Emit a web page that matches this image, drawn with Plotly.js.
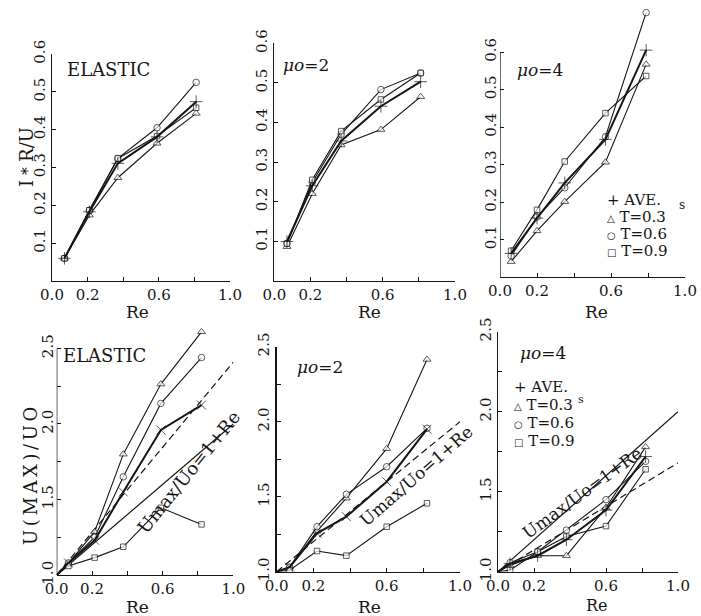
<!DOCTYPE html>
<html><head><meta charset="utf-8">
<script src="https://cdn.plot.ly/plotly-3.0.1.min.js"></script>
<style>html,body{margin:0;padding:0;background:#fff}#chart{width:701px;height:616px}</style>
</head><body><div id="chart"></div>
<script>
// ---------- DATA ----------
// Top row: I*R/U versus Re
const reTopElastic  = [0.07, 0.21, 0.37, 0.59, 0.81];
const aveTopElastic = [0.060, 0.183, 0.311, 0.381, 0.474];
const t03TopElastic = [0.060, 0.174, 0.273, 0.364, 0.443];
const t06TopElastic = [0.060, 0.187, 0.324, 0.405, 0.525];
const t09TopElastic = [0.060, 0.187, 0.324, 0.383, 0.458];

const reTopMu2  = [0.07, 0.21, 0.37, 0.59, 0.81];
const aveTopMu2 = [0.099, 0.240, 0.353, 0.441, 0.503];
const t03TopMu2 = [0.086, 0.220, 0.343, 0.382, 0.465];
const t06TopMu2 = [0.094, 0.248, 0.370, 0.483, 0.525];
const t09TopMu2 = [0.094, 0.255, 0.378, 0.458, 0.525];

const reTopMu4  = [0.06, 0.20, 0.35, 0.57, 0.79];
const aveTopMu4 = [0.063, 0.157, 0.251, 0.367, 0.605];
const t03TopMu4 = [0.041, 0.123, 0.201, 0.306, 0.567];
const t06TopMu4 = [0.056, 0.160, 0.238, 0.374, 0.705];
const t09TopMu4 = [0.070, 0.179, 0.308, 0.437, 0.536];

// Bottom row: U(MAX)/UO versus Re
const reBotElastic  = [0, 0.066, 0.215, 0.377, 0.59, 0.82];
const aveBotElastic = [1, 1.08, 1.23, 1.55, 1.96, 2.125];
const t03BotElastic = [1, 1.077, 1.287, 1.80, 2.264, 2.61];
const t06BotElastic = [1, 1.08, 1.25, 1.65, 2.136, 2.44];
const t09BotElastic = [1, 1.06, 1.115, 1.187, 1.445, 1.335];

const reBotMu2  = [0, 0.07, 0.22, 0.38, 0.60, 0.82];
const aveBotMu2 = [1, 1.03, 1.256, 1.367, 1.60, 1.95];
const t03BotMu2 = [1, 1.03, 1.27, 1.49, 1.82, 2.415];
const t06BotMu2 = [1, 1.03, 1.30, 1.516, 1.70, 1.956];
const t09BotMu2 = [1, 1.01, 1.138, 1.107, 1.30, 1.456];

const reBotMu4  = [0, 0.067, 0.22, 0.38, 0.60, 0.82];
const aveBotMu4 = [1, 1.05, 1.10, 1.20, 1.385, 1.72];
const t03BotMu4 = [1, 1.04, 1.10, 1.10, 1.40, 1.78];
const t06BotMu4 = [1, 1.056, 1.125, 1.26, 1.45, 1.69];
const t09BotMu4 = [1, 1.01, 1.125, 1.22, 1.285, 1.64];

// Reference lines
const refRe = [0, 1];
const refOnePlusRe = [1, 2];          // Umax/Uo = 1 + Re
const dashBotElastic = [1, 2.41];
const dashBotMu4 = [1, 1.68];

// Tick labels
const xTickVals = [0, 0.2, 0.4, 0.6, 0.8, 1.0];
const xTickText = ['0.0', '0.2', '', '0.6', '', '1.0'];
const yTopVals = [0.1, 0.2, 0.3, 0.4, 0.5, 0.6];
const yTopText = ['0.1', '0.2', '0.3', '0.4', '0.5', '0.6'];
const yBotVals = [1.0, 1.25, 1.5, 1.75, 2.0, 2.25, 2.5];
const yBotText = ['1.0', '', '1.5', '', '2.0', '', '2.5'];

// ---------- STYLE ----------
const W = 701, H = 616;
const INK = '#161616';
const FONT = '"DejaVu Serif", "Liberation Serif", serif';
const px = v => v / W;
const py = v => 1 - v / H;

const kinds = {
  ave: {symbol: 'cross-thin-open', size: 9, lw: 2.0},
  t03: {symbol: 'triangle-up', size: 7, lw: 1.1},
  t06: {symbol: 'circle', size: 6.5, lw: 1.1},
  t09: {symbol: 'square', size: 5.5, lw: 1.1}
};

function series(ax, re, vals, kind, opts) {
  opts = opts || {};
  const k = kinds[kind];
  const sizes = re.map(r => (opts.hideOrigin && r === 0) ? 0 : k.size);
  return {
    type: 'scatter', mode: 'lines+markers', x: re, y: vals,
    xaxis: 'x' + ax, yaxis: 'y' + ax, showlegend: false, hoverinfo: 'skip',
    line: {color: INK, width: k.lw},
    marker: {symbol: opts.symbol || k.symbol, size: sizes, color: (kind === 'ave') ? INK : '#fff',
             line: {color: INK, width: 1}}
  };
}
function refLine(ax, xs, ys, dash) {
  return {type: 'scatter', mode: 'lines', x: xs, y: ys, xaxis: 'x' + ax, yaxis: 'y' + ax,
          showlegend: false, hoverinfo: 'skip', line: {color: INK, width: 1.2, dash: dash || 'solid'}};
}

const traces = [
  series('', reTopElastic, t03TopElastic, 't03'),
  series('', reTopElastic, t06TopElastic, 't06'),
  series('', reTopElastic, t09TopElastic, 't09'),
  series('', reTopElastic, aveTopElastic, 'ave'),

  series('2', reTopMu2, t03TopMu2, 't03'),
  series('2', reTopMu2, t06TopMu2, 't06'),
  series('2', reTopMu2, t09TopMu2, 't09'),
  series('2', reTopMu2, aveTopMu2, 'ave'),

  series('3', reTopMu4, t03TopMu4, 't03'),
  series('3', reTopMu4, t06TopMu4, 't06'),
  series('3', reTopMu4, t09TopMu4, 't09'),
  series('3', reTopMu4, aveTopMu4, 'ave'),

  refLine('4', refRe, refOnePlusRe),
  refLine('4', refRe, dashBotElastic, '7px,4px'),
  series('4', reBotElastic, t03BotElastic, 't03', {hideOrigin: true}),
  series('4', reBotElastic, t06BotElastic, 't06', {hideOrigin: true}),
  series('4', reBotElastic, t09BotElastic, 't09', {hideOrigin: true}),
  series('4', reBotElastic, aveBotElastic, 'ave', {hideOrigin: true, symbol: 'x-thin-open'}),

  refLine('5', refRe, refOnePlusRe, '7px,4px'),
  series('5', reBotMu2, t03BotMu2, 't03', {hideOrigin: true}),
  series('5', reBotMu2, t06BotMu2, 't06', {hideOrigin: true}),
  series('5', reBotMu2, t09BotMu2, 't09', {hideOrigin: true}),
  series('5', reBotMu2, aveBotMu2, 'ave', {hideOrigin: true, symbol: 'x-thin-open'}),

  refLine('6', refRe, refOnePlusRe),
  refLine('6', refRe, dashBotMu4, '7px,4px'),
  series('6', reBotMu4, t03BotMu4, 't03', {hideOrigin: true}),
  series('6', reBotMu4, t06BotMu4, 't06', {hideOrigin: true}),
  series('6', reBotMu4, t09BotMu4, 't09', {hideOrigin: true}),
  series('6', reBotMu4, aveBotMu4, 'ave', {hideOrigin: true})
];

function xAx(x0, x1, anchor) {
  return {domain: [px(x0), px(x1)], anchor: anchor, range: [0, 1], fixedrange: true,
          showline: true, linecolor: INK, linewidth: 1.3, ticks: 'inside', ticklen: 4, tickcolor: INK,
          tickvals: xTickVals, ticktext: xTickText, showgrid: false, zeroline: false,
          tickfont: {family: FONT, size: 15, color: INK}};
}
function yAx(yBottom, yTop, range, anchor, top, showline) {
  return {domain: [py(yBottom), py(yTop)], anchor: anchor, range: range, fixedrange: true,
          showline: showline, linecolor: INK, linewidth: 1.3, ticks: 'inside', ticklen: 4, tickcolor: INK,
          tickvals: top ? yTopVals : yBotVals, ticktext: top ? yTopText : yBotText,
          tickangle: -90, showgrid: false, zeroline: false,
          tickfont: {family: FONT, size: 15, color: INK}};
}

function ann(text, x, y, size, extra) {
  return Object.assign({text: text, x: px(x), y: py(y), xref: 'paper', yref: 'paper',
    showarrow: false, xanchor: 'center', yanchor: 'middle',
    font: {family: FONT, size: size, color: INK}}, extra || {});
}
const sm = g => '<span style="font-size:10px">' + g + '</span>';
const mu = n => '<i>\u03bco</i>=' + n;
const rel = 'Umax/Uo=1+Re';

const annotations = [
  ann('ELASTIC', 109, 69, 18),
  ann(mu(2), 306, 65, 17),
  ann(mu(4), 540, 70, 17),
  ann('ELASTIC', 104, 355, 18),
  ann(mu(2), 320, 367, 17),
  ann(mu(4), 543, 353, 17),

  ann('I\uff0aR/U', 26, 157, 18, {textangle: -90}),
  ann('U\u2009(\u2009M\u2009A\u2009X\u2009)\u2009/\u2009U\u2009O', 30, 476, 18, {textangle: -90}),

  ann('Re', 137, 312, 17), ann('Re', 370, 312, 17), ann('Re', 596, 312, 17),
  ann('Re', 137, 607, 17), ann('Re', 369, 607, 17), ann('Re', 597, 605, 16),

  ann(rel, 188, 472, 18, {textangle: -51}),
  ann(rel, 416, 476, 17, {textangle: -41}),
  ann(rel, 582, 493, 17, {textangle: -36}),

  // legend, top right
  ann('+ AVE.', 605, 200, 15, {xanchor: 'left'}),
  ann(sm('\u25b3') + ' T=0.3', 605, 217, 15, {xanchor: 'left'}),
  ann(sm('\u25cb') + ' T=0.6', 605, 234, 15, {xanchor: 'left'}),
  ann(sm('\u25a1') + ' T=0.9', 605, 251, 15, {xanchor: 'left'}),
  ann('s', 682, 205, 12),
  // legend, bottom right
  ann('+ AVE.', 512, 387, 15, {xanchor: 'left'}),
  ann(sm('\u25b3') + ' T=0.3', 512, 405, 15, {xanchor: 'left'}),
  ann(sm('\u25cb') + ' T=0.6', 512, 423, 15, {xanchor: 'left'}),
  ann(sm('\u25a1') + ' T=0.9', 512, 441, 15, {xanchor: 'left'}),
  ann('s', 581, 399, 11)
];

// y-axis lines that stop at the last labelled tick
const axisTopMu4 = [0, 0.6];
const axisBotElastic = [1, 2.5];
const shapes = [
  {type: 'line', xref: 'x3', yref: 'y3', x0: 0, x1: 0, y0: axisTopMu4[0], y1: axisTopMu4[1],
   line: {color: INK, width: 1.3}},
  {type: 'line', xref: 'x4', yref: 'y4', x0: 0, x1: 0, y0: axisBotElastic[0], y1: axisBotElastic[1],
   line: {color: INK, width: 1.3}}
];

const layout = {
  width: W, height: H, margin: {l: 0, r: 0, t: 0, b: 0},
  paper_bgcolor: '#fff', plot_bgcolor: 'rgba(0,0,0,0)', showlegend: false,
  font: {family: FONT, color: INK},
  xaxis:  xAx(52, 230, 'y'),
  yaxis:  yAx(281, 54, [0, 0.6], 'x', true, true),
  xaxis2: xAx(274.3, 455, 'y2'),
  yaxis2: yAx(280.7, 43.3, [0, 0.6], 'x2', true, true),
  xaxis3: xAx(500, 685, 'y3'),
  yaxis3: yAx(277, 7, [0, 0.72], 'x3', true, false),
  xaxis4: xAx(56.7, 233.3, 'y4'),
  yaxis4: yAx(575, 325.8, [1, 2.65], 'x4', false, false),
  xaxis5: xAx(276.7, 460, 'y5'),
  yaxis5: yAx(571.7, 346.7, [1, 2.5], 'x5', false, true),
  xaxis6: xAx(498, 678, 'y6'),
  yaxis6: yAx(571.7, 331.7, [1, 2.5], 'x6', false, true),
  annotations: annotations,
  shapes: shapes
};

Plotly.newPlot('chart', traces, layout, {staticPlot: true, displayModeBar: false});
</script></body></html>
